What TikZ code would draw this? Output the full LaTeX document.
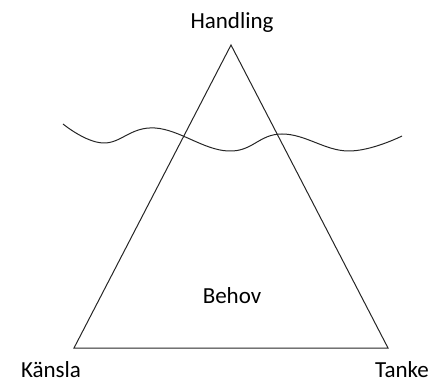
\documentclass[tikz,border=0pt]{standalone}
\usepackage{fontspec}
\setmainfont{Carlito}
\begin{document}
\begin{tikzpicture}[x=1pt,y=-1pt,
  lbl/.style={font=\fontsize{23}{26}\selectfont, inner sep=0pt},
  ln/.style={line width=1pt, black!85}]
\useasboundingbox (0,0) rectangle (441,387);
\coordinate (A) at (231,45);
\coordinate (L) at (74,348);
\coordinate (R) at (388,348);
\draw[ln] (A) -- (L) -- (R) -- cycle;
\draw[ln] plot[smooth, tension=0.7] coordinates {(63,124) (103,143) (155,128) (228,151) (282,134) (348,151) (402,136)};
\node[lbl] (h) at (232,22) {Handling};
\node[lbl] (k) at (51,370) {Känsla};
\node[lbl] (t) at (402,370) {Tanke};
\node[lbl] (b) at (232,296) {Behov};
\end{tikzpicture}
\end{document}
